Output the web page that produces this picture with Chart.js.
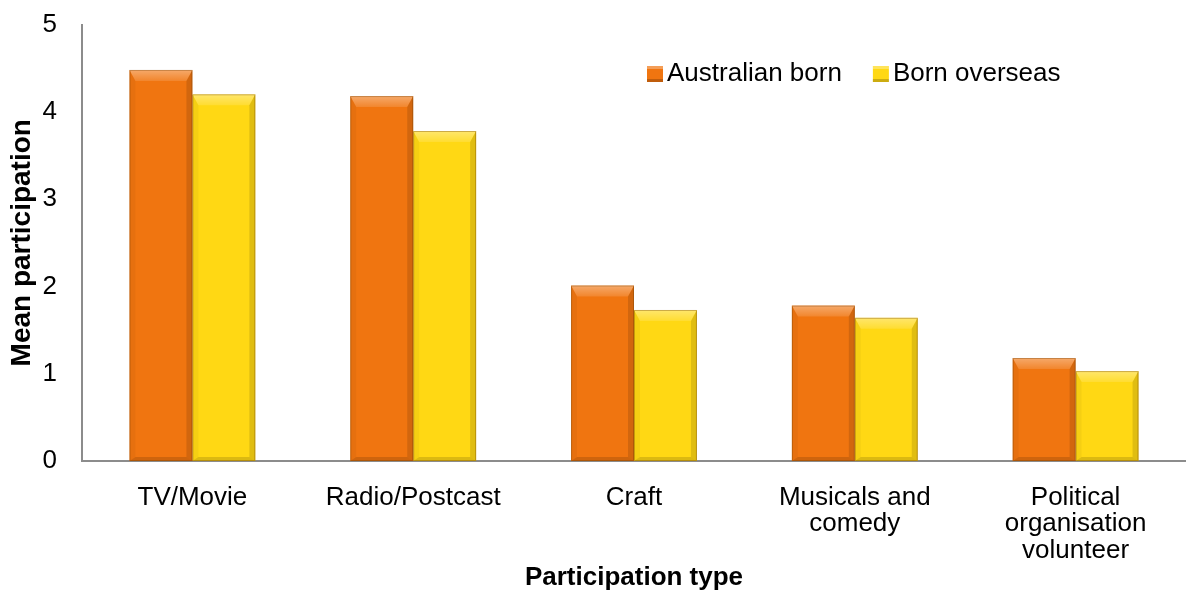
<!DOCTYPE html>
<html>
<head>
<meta charset="utf-8">
<script src="https://cdn.jsdelivr.net/npm/chart.js@4"></script>
<style>
  html, body { margin: 0; padding: 0; background: #fff; }
  #wrap { width: 1186px; height: 592px; position: relative; }
</style>
</head>
<body>
<div id="wrap"><canvas id="chart"></canvas></div>
<script>
const categories = ['TV/Movie', 'Radio/Postcast', 'Craft', ['Musicals and', 'comedy'], ['Political', 'organisation', 'volunteer']];
const australianBorn = [4.48, 4.18, 2.01, 1.78, 1.18];
const bornOverseas = [4.20, 3.78, 1.73, 1.64, 1.03];
const yTicks = [0, 1, 2, 3, 4, 5];

const FONT = "'Liberation Sans', Arial, Helvetica, sans-serif";
Chart.defaults.font.family = FONT;
Chart.defaults.color = '#000';

// bevel look on each bar, like the office chart
const bevelPlugin = {
    id: 'bevel',
    afterDatasetsDraw(chart) {
        const ctx = chart.ctx;
        chart.data.datasets.forEach((ds, i) => {
            chart.getDatasetMeta(i).data.forEach(bar => {
                const p = bar.getProps(['x', 'y', 'base', 'width'], true);
                const l = p.x - p.width / 2, r = p.x + p.width / 2;
                const t = p.y, bot = p.base;
                const bt = Math.min(11, (bot - t) / 2); // top bevel
                const bs = 6;                            // side bevel
                const bb = 4;                            // bottom bevel
                const poly = (pts, fill) => {
                    ctx.beginPath();
                    ctx.moveTo(pts[0][0], pts[0][1]);
                    pts.slice(1).forEach(q => ctx.lineTo(q[0], q[1]));
                    ctx.closePath();
                    ctx.fillStyle = fill;
                    ctx.fill();
                };
                ctx.save();
                const g = ctx.createLinearGradient(0, t, 0, t + bt);
                g.addColorStop(0, 'rgba(255,255,255,0.38)');
                g.addColorStop(1, 'rgba(255,255,255,0.12)');
                poly([[l, t], [r, t], [r - bs, t + bt], [l + bs, t + bt]], g);
                poly([[r, t], [r, bot], [r - bs, bot - bb], [r - bs, t + bt]], 'rgba(0,0,0,0.12)');
                poly([[l, t], [l + bs, t + bt], [l + bs, bot - bb], [l, bot]], 'rgba(0,0,0,0.04)');
                poly([[l, bot], [l + bs, bot - bb], [r - bs, bot - bb], [r, bot]], 'rgba(0,0,0,0.14)');
                ctx.strokeStyle = 'rgba(110,60,0,0.35)';
                ctx.lineWidth = 1;
                ctx.strokeRect(l + 0.5, t + 0.5, p.width - 1, bot - t - 1);
                ctx.restore();
            });
        });
    }
};

// legend drawn inside the plot area, top right
const innerLegend = {
    id: 'innerLegend',
    afterDraw(chart) {
        const ctx = chart.ctx;
        let x = 647;
        const y = 73;
        ctx.save();
        ctx.font = '26px ' + FONT;
        ctx.textBaseline = 'middle';
        chart.data.datasets.forEach(ds => {
            ctx.fillStyle = ds.backgroundColor;
            ctx.fillRect(x, y - 7, 16, 16);
            ctx.fillStyle = 'rgba(255,255,255,0.3)';
            ctx.fillRect(x, y - 7, 16, 3);
            ctx.fillStyle = 'rgba(0,0,0,0.2)';
            ctx.fillRect(x, y + 6, 16, 3);
            ctx.fillStyle = '#000';
            ctx.fillText(ds.label, x + 20, y + 1);
            x += 20 + ctx.measureText(ds.label).width + 31;
        });
        ctx.restore();
    }
};

new Chart(document.getElementById('chart'), {
    type: 'bar',
    data: {
        labels: categories,
        datasets: [
            { label: 'Australian born', data: australianBorn, backgroundColor: '#F07510' },
            { label: 'Born overseas', data: bornOverseas, backgroundColor: '#FFD814' }
        ]
    },
    options: {
        responsive: true, maintainAspectRatio: false, animation: false,
        layout: { padding: { top: 0, right: 0, left: 3, bottom: 1 } },
        datasets: { bar: { categoryPercentage: 0.57, barPercentage: 1.0 } },
        plugins: { legend: { display: false }, tooltip: { enabled: false } },
        scales: {
            x: {
                grid: { display: false, drawTicks: false },
                border: { color: '#8c8c8c', width: 2 },
                ticks: { font: { size: 26, lineHeight: 1.03 }, color: '#000', padding: 23, maxRotation: 0, autoSkip: false },
                title: { display: true, text: 'Participation type', font: { size: 26, weight: 'bold', lineHeight: 1.0 }, color: '#000', padding: { top: 2, bottom: 0 } },
                afterFit: scale => { scale.height = 130; }
            },
            y: {
                min: 0, max: 5,
                afterBuildTicks: axis => { axis.ticks = yTicks.map(v => ({ value: v })); },
                grid: { display: false, drawOnChartArea: false, drawTicks: true, tickLength: 7, tickColor: '#8c8c8c' },
                border: { color: '#8c8c8c', width: 2 },
                ticks: { font: { size: 26, lineHeight: 0.5 }, color: '#000', padding: 18 },
                title: { display: true, text: 'Mean participation', font: { size: 28, weight: 'bold', lineHeight: 1.2 }, color: '#000', padding: { top: 2, bottom: 3 } },
                afterFit: scale => { scale.width = 79; }
            }
        }
    },
    plugins: [bevelPlugin, innerLegend]
});
</script>
</body>
</html>
